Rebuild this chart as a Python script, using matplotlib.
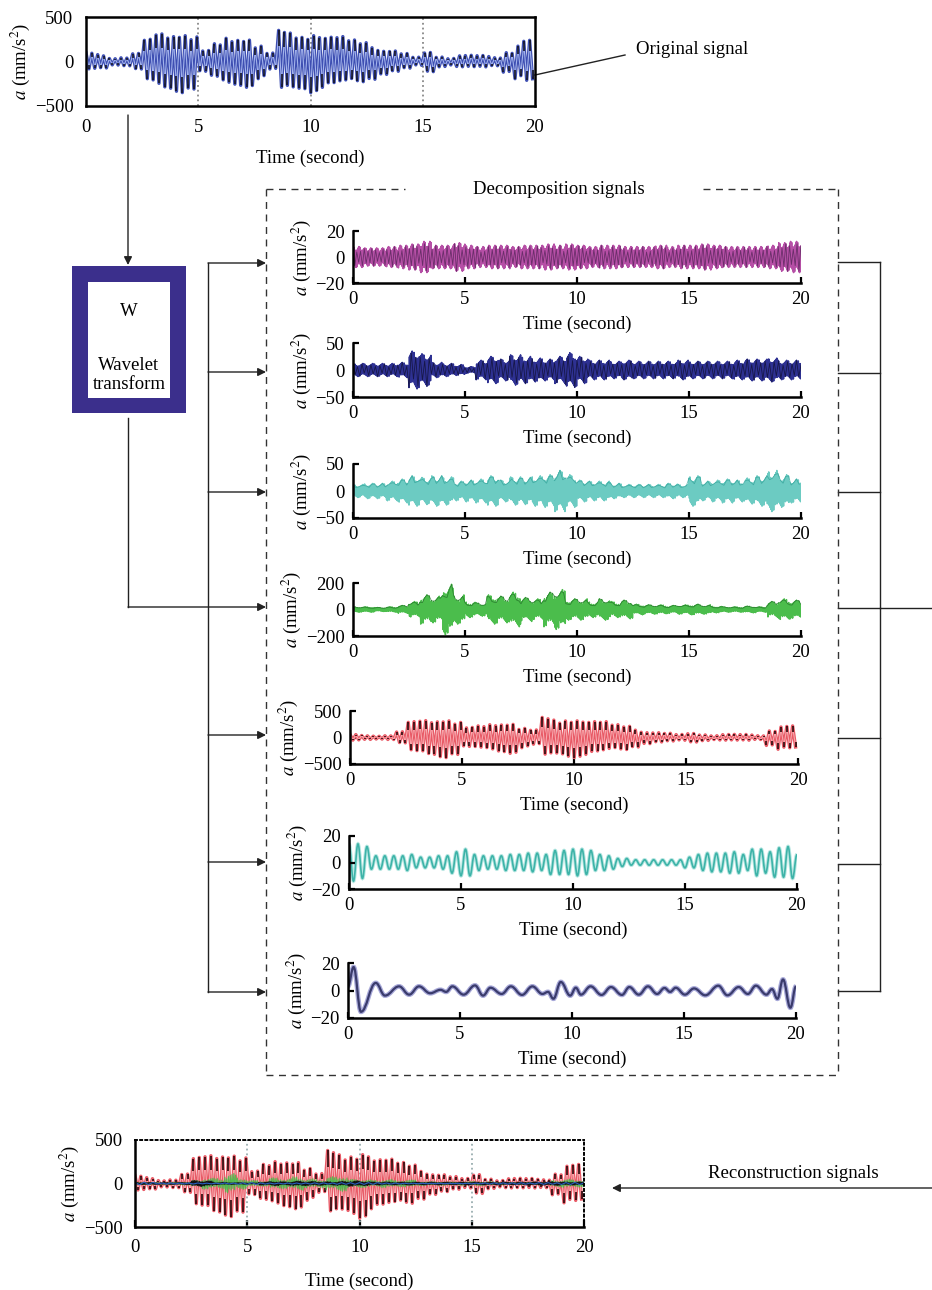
import numpy as np
import matplotlib
matplotlib.use("Agg")
import matplotlib.pyplot as plt
from matplotlib.path import Path
from matplotlib.patches import PathPatch, Rectangle

plt.rcParams["font.family"] = ["Liberation Serif", "DejaVu Serif"]
plt.rcParams["mathtext.fontset"] = "stix"
plt.rcParams["font.size"] = 13.5

# ---- data ----------------------------------------------------------------
# envelopes (amplitude, mm/s^2) sampled every 0.5 s from 0 to 20 s
env_original = [100, 80, 40, 50, 100, 250, 320, 330, 350, 320, 130, 200, 270, 280,
                290, 200, 100, 350, 330, 320, 350, 300, 280, 250, 250, 200, 150, 130,
                90, 50, 120, 60, 40, 70, 70, 70, 50, 120, 200, 250, 120]
env_d1 = [8, 7, 7, 8, 9, 10, 12, 9, 9, 11, 9, 8, 9, 9, 8, 9, 9, 10, 9, 10, 9, 8, 9, 9,
          8, 8, 8, 9, 8, 9, 9, 10, 9, 8, 8, 8, 8, 9, 11, 12, 12]
env_d2 = [12, 12, 12, 12, 14, 35, 30, 14, 12, 10, 6, 18, 25, 20, 28, 25, 22, 20, 25, 32,
          25, 18, 18, 16, 18, 16, 16, 16, 16, 18, 16, 16, 16, 16, 18, 20, 20, 22, 18, 18, 18]
env_d3 = [12, 14, 14, 18, 22, 28, 25, 28, 26, 18, 20, 22, 28, 20, 26, 25, 28, 30, 38, 30,
          20, 18, 18, 14, 12, 12, 12, 12, 14, 12, 28, 18, 20, 22, 20, 24, 28, 38, 30, 22, 15]
env_d4 = [20, 20, 15, 20, 30, 60, 110, 100, 190, 110, 60, 50, 110, 100, 130, 90, 80, 130,
          150, 80, 80, 60, 80, 60, 70, 40, 35, 35, 30, 35, 40, 35, 25, 20, 20, 25, 20, 60,
          80, 70, 60]
env_d5 = [60, 40, 30, 40, 120, 300, 330, 350, 380, 330, 200, 220, 250, 280, 300, 200, 150,
          380, 340, 370, 380, 330, 300, 250, 250, 180, 120, 100, 80, 60, 90, 60, 40, 60,
          60, 60, 40, 150, 230, 230, 80]
env_d6 = [14, 12, 5, 5, 5, 6, 4, 4, 5, 8, 10, 6, 5, 5, 6, 6, 7, 6, 9, 9, 10, 9, 6, 5, 3,
          2, 2, 2, 2, 2, 4, 6, 7, 7, 8, 6, 10, 8, 11, 12, 6]
env_recon = [90, 70, 40, 50, 120, 300, 330, 360, 380, 340, 150, 220, 260, 280, 290, 200,
             120, 380, 340, 360, 400, 300, 280, 250, 250, 180, 130, 110, 80, 60, 120, 60,
             40, 60, 60, 60, 50, 130, 230, 230, 100]

# last decomposition signal: extrema (time s, value mm/s^2)
d7_t = [0, 0.25, 0.58, 1.24, 1.65, 2.28, 2.73, 3.17, 3.67, 4.13, 4.38, 4.66, 5.16, 5.67,
        6.03, 6.36, 6.86, 7.27, 7.77, 8.23, 8.68, 8.93, 9.17, 9.5, 9.92, 10.17, 10.4,
        10.83, 11.32, 11.74, 12.23, 12.56, 12.98, 13.39, 13.8, 14.13, 14.38, 14.63, 15.04,
        15.45, 15.95, 16.53, 16.94, 17.44, 17.85, 18.21, 18.68, 18.93, 19.17, 19.42,
        19.75, 20.0]
d7_v = [3, 17, -15.5, 5.5, -3.7, 3, -3, 3, -2, 0.5, -1, 3, -3, 3.7, -3.7, 2, -2.5, 3,
        -3.2, 3, -2.5, -1, -6, 6.2, -3.7, 2, -3, 3, -3.2, 2.5, -3.2, 2.5, -3, 3, -2.5,
        1.8, -1, 2, -3, 1.5, -3.5, 3.5, -3.5, 2.5, -2.5, 3.5, -3, 1, -6, 8, -12.5, 3]

x_ticks = [0, 5, 10, 15, 20]

# irregular peak heights within each envelope step
texture = np.array([1.0, 0.62, 0.85, 0.48, 0.93, 0.7, 0.55, 0.8, 0.66, 0.9, 0.5])


def zigzag(env, step, depth=1.0):
    t = np.arange(0, 20 + 1e-9, step)
    idx = np.minimum((t / 0.5).astype(int), len(env) - 1)
    n = np.arange(len(t))
    sign = np.where(n % 2 == 0, 1.0, -1.0)
    amp = np.asarray(env, float)[idx]
    amp = amp * (1 - depth * (1 - texture[n % len(texture)]))
    return t, amp * sign


def smooth(ax, t, v, **kw):
    verts = [(t[0], v[0])]
    codes = [Path.MOVETO]
    for i in range(1, len(t)):
        dt = t[i] - t[i - 1]
        verts += [(t[i - 1] + 0.4 * dt, v[i - 1]), (t[i] - 0.4 * dt, v[i]), (t[i], v[i])]
        codes += [Path.CURVE4] * 3
    ax.add_patch(PathPatch(Path(verts, codes), fill=False, **kw))


def bars(ax, env, color, light, tip, step=0.13):
    t, v = zigzag(env, step, depth=0.45)
    ax.plot(t, v, color=color, lw=2.4)
    ax.plot(t, 0.85 * v, color=light, lw=0.8)
    ax.vlines(t, 0.5 * v, v, color=tip, lw=1.4, alpha=0.85)


def band(ax, env, step, color, edge, every):
    t, v = zigzag(env, step)
    ax.plot(t, v, color=color, lw=1.1)
    ax.plot(t[::every], v[::every], color=edge, lw=0.6, alpha=0.7)


W, H = 932, 1290
fig = plt.figure(figsize=(W / 100, H / 100), dpi=100)


def rect(x0, x1, ytop, ybot):
    return [x0 / W, 1 - ybot / H, (x1 - x0) / W, (ybot - ytop) / H]


# overlay for the diagram lines
ov = fig.add_axes([0, 0, 1, 1])
ov.set_xlim(0, W)
ov.set_ylim(H, 0)
ov.axis("off")


def panel(pos, lim, frame="L", labelpad=5, tickpad=6):
    ax = fig.add_axes(rect(*pos))
    ax.set_facecolor("none")
    ax.set_xlim(0, 20)
    ax.set_ylim(-lim, lim)
    ax.set_xticks(x_ticks)
    ax.set_yticks([-lim, 0, lim])
    ax.tick_params(direction="in", length=4, width=1.6, pad=tickpad, labelsize=13.5)
    for s in ax.spines.values():
        s.set_linewidth(1.8)
    if frame == "L":
        ax.spines["top"].set_visible(False)
        ax.spines["right"].set_visible(False)
    ax.set_xlabel("Time (second)", labelpad=labelpad)
    ax.set_ylabel(r"$a$ (mm/s$^2$)", labelpad=2)
    return ax


# ---- original signal ------------------------------------------------------
ax0 = panel((86, 535, 17, 106), 500, frame="box", labelpad=10, tickpad=9)
ax0.tick_params(length=0)
for xv in [5, 10, 15]:
    ax0.axvline(xv, color="#888888", ls=":", lw=1.3)
bars(ax0, env_original, "#3e4fb2", "#a3b3ec", "#111122")

# ---- decomposition signals ------------------------------------------------
ax1 = panel((353, 801, 231, 283), 20)
band(ax1, env_d1, 0.012, "#b64fa6", "#4a2050", 7)

ax2 = panel((353, 801, 343, 397), 50)
band(ax2, env_d2, 0.02, "#2e3192", "#0d0d2a", 5)

ax3 = panel((353, 801, 464, 518), 50)
band(ax3, env_d3, 0.02, "#6ccbc2", "#2fa096", 6)

ax4 = panel((353, 801, 583, 636), 200)
band(ax4, env_d4, 0.025, "#4bbd4c", "#1f6b25", 4)

ax5 = panel((350, 798, 711, 764), 500)
bars(ax5, env_d5, "#e85a66", "#f7a8ae", "#2a0508")

ax6 = panel((349, 797, 836, 889), 20)
t, v = zigzag(env_d6, 0.2, depth=0.0)
smooth(ax6, t, v, ec="#b5e6e1", lw=2.6)
smooth(ax6, t, v, ec="#3db3a8", lw=1.2)

ax7 = panel((348, 796, 963, 1018), 20)
smooth(ax7, d7_t, d7_v, ec="#a7a8d8", lw=3.4)
smooth(ax7, d7_t, d7_v, ec="#3a3b6c", lw=1.6)

# ---- reconstruction -------------------------------------------------------
ax8 = panel((135, 584, 1140, 1227), 500, frame="box", labelpad=12, tickpad=9)
ax8.spines["top"].set_linestyle(":")
ax8.spines["right"].set_linestyle(":")
ax8.spines["top"].set_linewidth(1.4)
ax8.spines["right"].set_linewidth(1.4)
ax8.tick_params(length=5, left=False)
for xv in [5, 10, 15]:
    ax8.axvline(xv, color="#9aaeb0", ls=":", lw=1.3)
bars(ax8, env_recon, "#e85a66", "#f7a8ae", "#2a0508")
t, v = zigzag(env_d4, 0.04)
ax8.plot(t, 0.6 * v, color="#45c04a", lw=0.8, alpha=0.9)
t, v = zigzag(env_d2, 0.03)
ax8.plot(t, v, color="#111111", lw=0.8)
t, v = zigzag(env_d6, 0.2, depth=0.0)
ax8.plot(t, v, color="#2a60c0", lw=0.8)

# ---- diagram --------------------------------------------------------------
lc = "#222222"
arrow = dict(arrowstyle="-|>", color=lc, lw=1.0, mutation_scale=12, shrinkA=0, shrinkB=0)

ov.text(636, 49, "Original signal", va="center", ha="left")
ov.plot([535, 625], [75, 55], color=lc, lw=1.0)

ov.annotate("", xy=(128, 265), xytext=(128, 115), arrowprops=arrow)
ov.add_patch(Rectangle((72, 266), 114, 147, facecolor="#3b2f8c", edgecolor="none"))
ov.add_patch(Rectangle((88, 282), 82, 116, facecolor="white", edgecolor="none"))
ov.text(129, 312, "W", ha="center", va="center")
ov.text(129, 375, "Wavelet\ntransform", ha="center", va="center", linespacing=1.1)
ov.plot([128, 128], [418, 607], color=lc, lw=1.0)
ov.annotate("", xy=(266, 607), xytext=(128, 607), arrowprops=arrow)

rows_in = [263, 372, 492, 735, 862, 992]
ov.plot([208, 208], [263, 992], color=lc, lw=1.0)
for y in rows_in:
    ov.annotate("", xy=(266, y), xytext=(208, y), arrowprops=arrow)

rows_out = [262, 373, 492, 608, 738, 864, 991]
for y in rows_out:
    ov.plot([838, 880], [y, y], color=lc, lw=1.0)
ov.plot([880, 880], [262, 991], color=lc, lw=1.0)
ov.plot([880, 932], [608, 608], color=lc, lw=1.0)

dash = dict(color="#333333", lw=1.0, ls=(0, (5, 4)))
ov.plot([266, 405], [189, 189], **dash)
ov.plot([703, 838], [189, 189], **dash)
ov.plot([266, 266], [189, 1075], **dash)
ov.plot([838, 838], [189, 1075], **dash)
ov.plot([266, 838], [1075, 1075], **dash)
ov.text(559, 190, "Decomposition signals", ha="center", va="center")

ov.annotate("", xy=(612, 1188), xytext=(932, 1188), arrowprops=arrow)
ov.text(793, 1173, "Reconstruction signals", ha="center", va="center")

fig.savefig("out.png", dpi=100)
